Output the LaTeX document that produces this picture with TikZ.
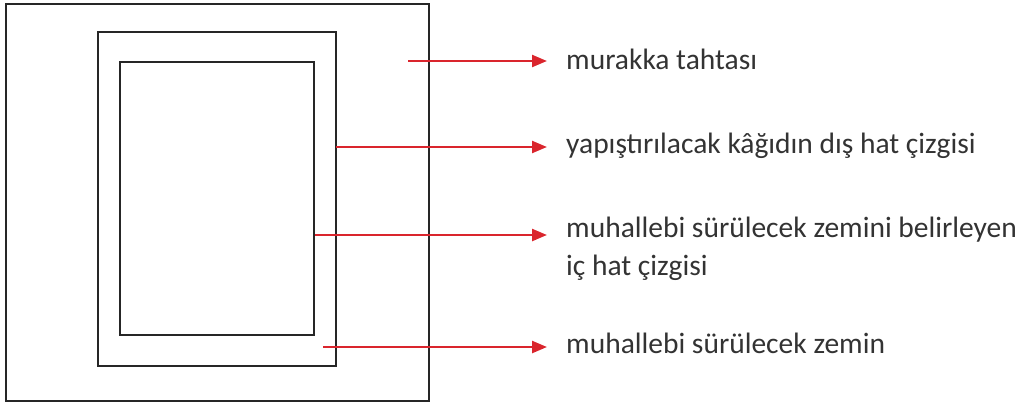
\documentclass[tikz,border=0pt]{standalone}
\usepackage{fontspec}
\setmainfont{Carlito}
\usetikzlibrary{arrows.meta, positioning}
\definecolor{arrowred}{RGB}{218,37,45}
\begin{document}
\begin{tikzpicture}[x=1pt,y=-1pt,
  frame/.style={draw=black!85, line width=2.2pt},
  redarrow/.style={draw=arrowred, line width=2.4pt, -{Triangle[length=15pt,width=12pt]}},
  desc/.style={anchor=base west, inner sep=0pt, text=black!80, align=left,
    font=\fontsize{29.5}{38}\selectfont}
]
\useasboundingbox (0,0) rectangle (1022,404);

% board and the two outlines
\draw[frame] (6,4) rectangle (429,401);
\draw[frame] (98,32) rectangle (336,366);
\draw[frame] (120,62) rectangle (314,335);

\coordinate (A) at (408,61);
\coordinate (B) at (547,61);
\coordinate (C) at (336,147);
\coordinate (D) at (547,147);
\coordinate (E) at (315,235);
\coordinate (F) at (547,235);
\coordinate (G) at (323,347);
\coordinate (H) at (547,347);

\draw[redarrow] (A) -- (B);
\draw[redarrow] (C) -- (D);
\draw[redarrow] (E) -- (F);
\draw[redarrow] (G) -- (H);

\node[desc] (T1) at (566,70) {murakka tahtası};
\node[desc] (T2) at (566,153) {yapıştırılacak kâğıdın dış hat çizgisi};
\node[desc] (T3) at (566,275) {muhallebi sürülecek zemini belirleyen\\iç hat çizgisi};
\node[desc] (T4) at (566,353) {muhallebi sürülecek zemin};
\end{tikzpicture}
\end{document}
